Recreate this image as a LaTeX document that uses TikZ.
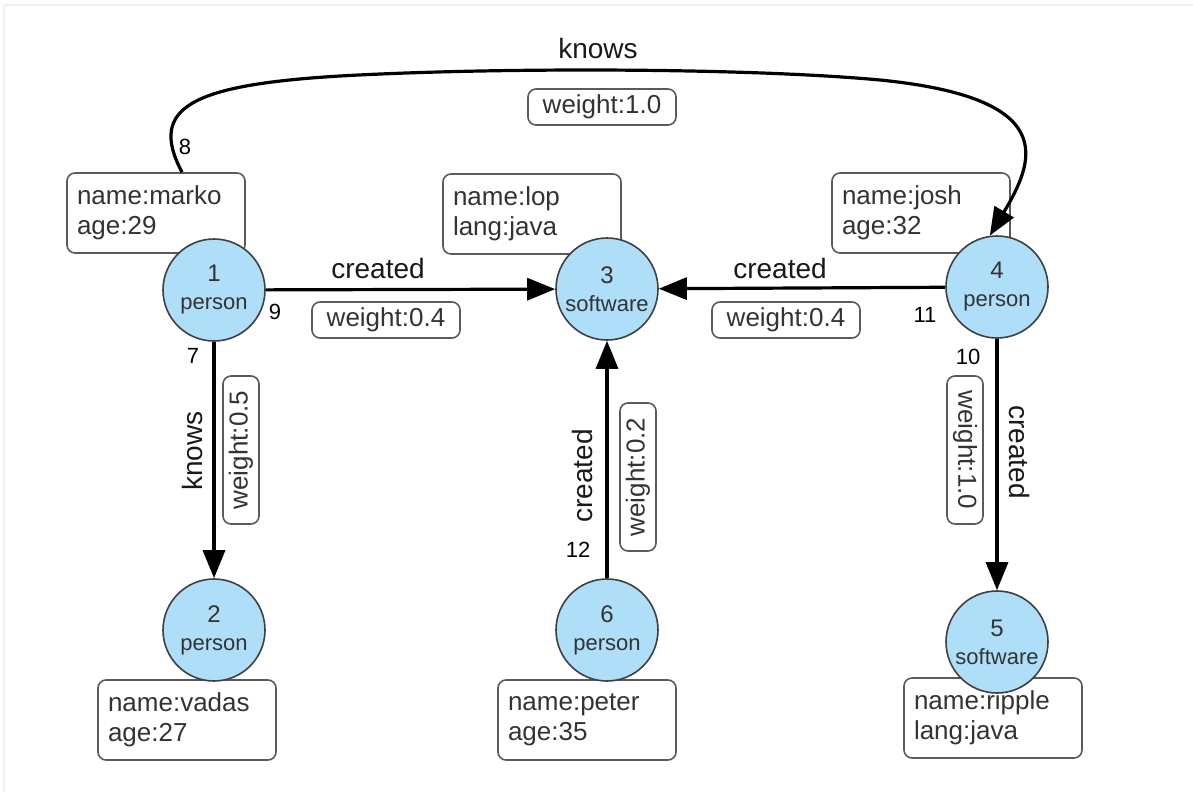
\documentclass[tikz,border=0pt]{standalone}
\usepackage{fontspec}
\setmainfont{Liberation Sans}
\usetikzlibrary{arrows.meta}
\definecolor{vblue}{RGB}{174,222,248}
\definecolor{boxline}{RGB}{90,90,90}
\begin{document}
\begin{tikzpicture}[x=0.5pt,y=-0.5pt,
 vertex/.style={circle, draw=black!75, line width=0.8pt, fill=vblue, minimum size=51pt, inner sep=0pt, align=center, font=\fontsize{12}{17}\selectfont, text=black!80},
 prop/.style={draw=boxline, line width=0.8pt, rounded corners=4pt, minimum width=89pt, minimum height=40pt, text width=79pt, align=left, font=\fontsize{13}{15}\selectfont, inner sep=5pt, fill=white, text=black!80},
 wbox/.style={draw=boxline, line width=0.8pt, rounded corners=4pt, minimum width=74pt, minimum height=18pt, inner sep=2pt, font=\fontsize{13}{15}\selectfont, fill=white, text=black!80},
 elabel/.style={font=\fontsize{14}{16}\selectfont, text=black!90},
 num/.style={font=\fontsize{11}{13}\selectfont},
 edge/.style={line width=1.6pt, -{Triangle[length=14pt,width=11pt]}}]
\useasboundingbox (0,0) rectangle (1193,792);
\draw[gray!12, line width=0.8pt] (4,5) coordinate (fa) -- (1193,5) coordinate (fb);
\draw[gray!12, line width=0.8pt] (fa) -- (4,792) coordinate (fc);

% property boxes
\node[prop] (marko) at (156,213) {name:marko\\age:29};
\node[prop] (lop) at (532,214) {name:lop\\lang:java};
\node[prop] (josh) at (921,213) {name:josh\\age:32};
\node[prop] (vadas) at (187,720) {name:vadas\\age:27};
\node[prop] (peter) at (587,720) {name:peter\\age:35};
\node[prop] (ripple) at (993,718) {name:ripple\\lang:java};

% vertices
\node[vertex] (v1) at (214,290) {1\\[-3pt]{\fontsize{11}{13}\selectfont person}};
\node[vertex] (v2) at (214,630) {2\\[-3pt]{\fontsize{11}{13}\selectfont person}};
\node[vertex] (v3) at (607,289) {3\\[-3pt]{\fontsize{11}{13}\selectfont software}};
\node[vertex] (v4) at (997,287) {4\\[-3pt]{\fontsize{11}{13}\selectfont person}};
\node[vertex] (v5) at (997,642) {5\\[-3pt]{\fontsize{11}{13}\selectfont software}};
\node[vertex] (v6) at (607,630) {6\\[-3pt]{\fontsize{11}{13}\selectfont person}};

% edges
\draw[edge] (v1) -- (v3);
\draw[edge] (v4) -- (v3);
\draw[edge] (v1) -- (v2);
\draw[edge] (v6) -- (v3);
\draw[edge] (v4) -- (v5);
\coordinate (k8) at ([xshift=13pt]marko.north);
\draw[edge] (k8) .. controls (148,108) and (190,85) .. (340,76)
  .. controls (500,67) and (750,68) .. (880,80)
  .. controls (1060,98) and (1035,160) .. (v4.98);

% edge labels
\node[elabel] (l8) at (598,48) {knows};
\node[wbox] (w8) at (602,107) {weight:1.0};
\node[num] (n8) at (185,147) {8};

\node[elabel] (l9) at (378,268) {created};
\node[wbox] (w9) at (386,320) {weight:0.4};
\node[num] (n9) at (275,312) {9};

\node[elabel] (l11) at (780,268) {created};
\node[wbox] (w11) at (786,320) {weight:0.4};
\node[num] (n11) at (925,315) {11};

\node[num] (n7) at (193,356) {7};
\node[elabel, rotate=90] (l7) at (192,451) {knows};
\node[wbox, rotate=90] (w7) at (241,450) {weight:0.5};

\node[elabel, rotate=90] (l12) at (582,476) {created};
\node[wbox, rotate=90] (w12) at (638,477) {weight:0.2};
\node[num] (n12) at (578,550) {12};

\node[num] (n10) at (968,357) {10};
\node[wbox, rotate=-90] (w10) at (965,450) {weight:1.0};
\node[elabel, rotate=-90] (l10) at (1019,452) {created};
\end{tikzpicture}
\end{document}
